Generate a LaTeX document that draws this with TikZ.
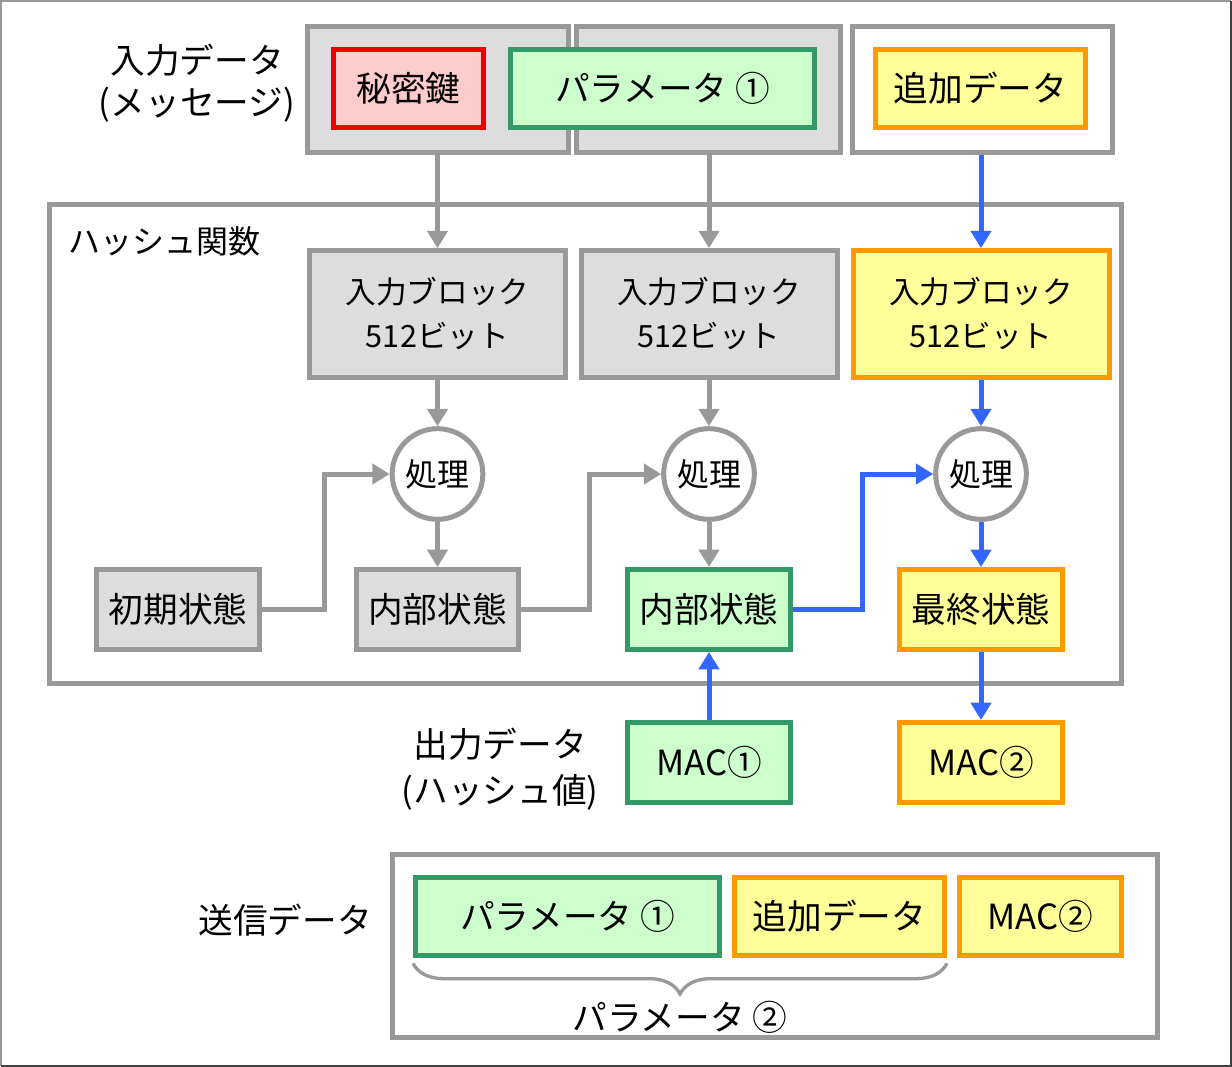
\documentclass[tikz,border=0pt]{standalone}
\usepackage{fontspec}
\setmainfont{Noto Sans CJK JP}
\usetikzlibrary{arrows.meta,decorations.pathreplacing}

\definecolor{lgray}{RGB}{221,221,221}
\definecolor{mgray}{RGB}{153,153,153}
\definecolor{kred}{RGB}{238,0,0}
\definecolor{lred}{RGB}{255,204,204}
\definecolor{kgreen}{RGB}{51,153,102}
\definecolor{lgreen}{RGB}{204,255,204}
\definecolor{korange}{RGB}{255,153,0}
\definecolor{lyellow}{RGB}{255,255,153}
\definecolor{kblue}{RGB}{51,102,255}

\tikzset{
  box/.style={draw, line width=3.75pt, inner sep=0pt, align=center, font=\fontsize{26}{34}\selectfont},
  graybox/.style={box, draw=mgray, fill=lgray},
  whitebox/.style={box, draw=mgray, fill=white},
  redbox/.style={box, draw=kred, fill=lred},
  greenbox/.style={box, draw=kgreen, fill=lgreen},
  yellowbox/.style={box, draw=korange, fill=lyellow},
  blockbox/.style={minimum width=192pt, minimum height=95pt, font=\fontsize{23}{33}\selectfont},
  statebox/.style={minimum width=122pt, minimum height=60pt},
  proc/.style={circle, draw=mgray, fill=white, line width=3.75pt, minimum size=68pt, inner sep=0pt, font=\fontsize{24}{28}\selectfont},
  lbl/.style={align=center, inner sep=0pt, font=\fontsize{26}{32}\selectfont},
  garrow/.style={draw=mgray, line width=3.75pt, -{Triangle[length=13pt,width=15pt]}},
  barrow/.style={draw=kblue, line width=3.75pt, -{Triangle[length=13pt,width=15pt]}},
}

\begin{document}
\begin{tikzpicture}[x=0.75pt,y=0.75pt,yscale=-1,xscale=1]
\useasboundingbox (0,0) rectangle (1232,1067);

%Outer frame
\draw[mgray, line width=1.5pt] (1,1066) -- (1,1) -- (1231,1);
\draw[black!75, line width=1.5pt] (1231,1) -- (1231,1066) -- (1,1066);

%Shape: Rectangle (hash function)
\node[whitebox, minimum width=804pt, minimum height=359pt] (hashfn) at (585.5,444) {};
% Text Node
\node[lbl, anchor=west, font=\fontsize{24}{28}\selectfont] (hashlbl) at (68,241) {ハッシュ関数};

%Input data
\node[graybox, minimum width=195.75pt, minimum height=94.5pt] (tseg1) at (438,89.5) {};
\node[graybox, minimum width=198pt, minimum height=94.5pt] (tseg2) at (708.5,89.5) {};
\node[whitebox, minimum width=195pt, minimum height=94.5pt] (tseg3) at (982.5,89.5) {};
\node[redbox, minimum width=112.5pt, minimum height=58.5pt] (key) at (408.5,88.5) {秘密鍵};
\node[greenbox, minimum width=228pt, minimum height=58.5pt] (param1) at (662.5,88.5) {パラメータ ①};
\node[yellowbox, minimum width=157.5pt, minimum height=58.5pt] (extra) at (980.5,88.5) {追加データ};
% Text Node
\node[lbl, font=\fontsize{26}{31}\selectfont] (inlbl) at (197,83) {入力データ\\(メッセージ)};

%Input blocks
\node[graybox, blockbox] (blk1) at (437.5,314) {入力ブロック\\512ビット};
\node[graybox, blockbox] (blk2) at (709,314) {入力ブロック\\512ビット};
\node[yellowbox, blockbox] (blk3) at (981,314) {入力ブロック\\512ビット};

%Processing
\node[proc] (proc1) at (437.5,474) {処理};
\node[proc] (proc2) at (709,474) {処理};
\node[proc] (proc3) at (981,474) {処理};

%States
\node[graybox, statebox] (st1) at (178,609.5) {初期状態};
\node[graybox, statebox] (st2) at (437.5,609.5) {内部状態};
\node[greenbox, statebox] (st3) at (709,609.5) {内部状態};
\node[yellowbox, statebox] (st4) at (981,609.5) {最終状態};

%Output data
\node[greenbox, statebox] (mac1) at (709,762.5) {MAC①};
\node[yellowbox, statebox] (mac2) at (981,762.5) {MAC②};
% Text Node
\node[lbl, font=\fontsize{26}{34}\selectfont] (outlbl) at (500,769) {出力データ\\(ハッシュ値)};

%Sent data
\node[whitebox, minimum width=574pt, minimum height=137pt] (send) at (775,946) {};
\node[greenbox, minimum width=228pt, minimum height=58.5pt] (sparam1) at (567.5,916.5) {パラメータ ①};
\node[yellowbox, minimum width=157.5pt, minimum height=58.5pt] (sextra) at (839.5,916.5) {追加データ};
\node[yellowbox, minimum width=121.5pt, minimum height=58.5pt] (smac2) at (1040.5,916.5) {MAC②};
% Text Node
\node[lbl] (sendlbl) at (285,920) {送信データ};
\node[lbl] (param2) at (680,1017) {パラメータ ②};
\draw[mgray, line width=2.5pt, decorate, decoration={brace, mirror, amplitude=23pt}] ([yshift=4]sparam1.south west) -- ([yshift=4]sextra.south east);

%Arrows
\draw[garrow] (tseg1.south -| blk1.north) -- (blk1.north);
\draw[garrow] (tseg2.south -| blk2.north) -- (blk2.north);
\draw[barrow] (tseg3.south -| blk3.north) -- (blk3.north);
\draw[garrow] (blk1.south) -- (proc1.north);
\draw[garrow] (blk2.south) -- (proc2.north);
\draw[barrow] (blk3.south) -- (proc3.north);
\draw[garrow] (proc1.south) -- (st2.north);
\draw[garrow] (proc2.south) -- (st3.north);
\draw[barrow] (proc3.south) -- (st4.north);
\draw[garrow] (st1.east) -- ++(63,0) |- (proc1.west);
\draw[garrow] (st2.east) -- ++(68,0) |- (proc2.west);
\draw[barrow] (st3.east) -- ++(70,0) |- (proc3.west);
\draw[barrow] (mac1.north) -- (st3.south);
\draw[barrow] (st4.south) -- (mac2.north);
\end{tikzpicture}
\end{document}
